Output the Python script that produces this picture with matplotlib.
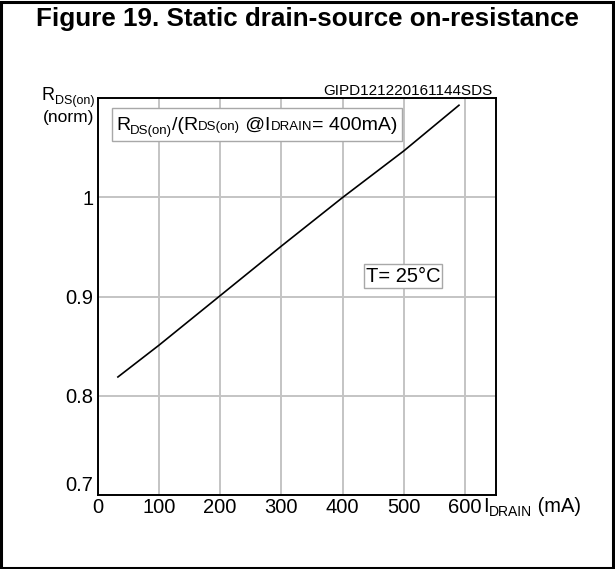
import numpy as np
import matplotlib
matplotlib.use("Agg")
import matplotlib.pyplot as plt
from matplotlib.patches import Rectangle

plt.rcParams['font.family'] = ['Liberation Sans', 'DejaVu Sans']

# curve
i_drain = [33, 100, 200, 300, 400, 500, 590]
r_norm = [0.819, 0.851, 0.901, 0.951, 1.0, 1.047, 1.093]

x_ticks = [0, 100, 200, 300, 400, 500, 600]
y_ticks = [0.7, 0.8, 0.9, 1.0]
y_labels = ["0.7", "0.8", "0.9", "1"]

W, H = 615, 569
fig = plt.figure(figsize=(W/100, H/100), dpi=100)
ax = fig.add_axes([97.7/W, 1-495/H, 398/W, 396.7/H])

gridGray = "#c4c4c4"
boxGray = "#a8a8a8"
tickSize = 14.5

ax.plot(i_drain, r_norm, color="black", lw=1.2, zorder=5)
ax.set_xlim(0, 650)
ax.set_ylim(0.7, 1.1)
ax.set_xticks(x_ticks)
ax.set_xticklabels([str(v) for v in x_ticks], fontsize=tickSize)
ax.set_yticks(y_ticks)
ax.set_yticklabels(y_labels, fontsize=tickSize)
ax.tick_params(axis="x", length=0, pad=2)
ax.tick_params(axis="y", length=0, pad=3)
ax.get_yticklabels()[0].set_va("bottom")
ax.grid(True, color=gridGray, lw=1.4)
ax.set_axisbelow(True)
for s in ax.spines.values():
    s.set_linewidth(1.4)
    s.set_color("black")

# outer frame of the figure
fig.patches.append(Rectangle((1/W, 1/H), (W-3)/W, (H-3)/H, transform=fig.transFigure,
                             fill=False, edgecolor="black", lw=2.2))

fig.text(0.5, 1-19/H, "Figure 19. Static drain-source on-resistance",
         ha="center", va="center", fontsize=18.7, fontweight="bold")

fig.text(493/W, 1-95/H, "GIPD121220161144SDS", ha="right", va="baseline", fontsize=11)

renderer = fig.canvas.get_renderer()


def chain(x, y, pieces, align="left"):
    # draw text pieces one after the other, in pixel coords
    arts = []
    widths = []
    for s, size, dy in pieces:
        t = fig.text(0, 1-(y+dy)/H, s, fontsize=size, va="baseline", ha="left", zorder=10)
        arts.append(t)
        widths.append(t.get_window_extent(renderer).width)
    if align == "right":
        x = x - sum(widths)
    for t, w in zip(arts, widths):
        t.set_x(x/W)
        x += w
    return x


# y-axis label
chain(94, 100, [("R", 13, 0), ("DS(on)", 9, 4)], align="right")
fig.text(94/W, 1-122/H, "(norm)", fontsize=12.5, va="baseline", ha="right")

# x-axis label
chain(483, 512, [("I", tickSize, 0), ("DRAIN", 10, 4), (" (mA)", tickSize, 0)])

# normalisation note
x_end = chain(116, 130, [("R", 14, 0), ("DS(on)", 9.5, 4), ("/(R", 14, 0),
                         ("DS(on)", 9.5, 0), (" @I", 14, 0),
                         ("DRAIN", 9.5, 0), ("= 400mA)", 14, 0)])
fig.patches.append(Rectangle((112/W, 1-141/H), (x_end+4-112)/W, 33/H,
                             transform=fig.transFigure, facecolor="white",
                             edgecolor=boxGray, lw=1.0, zorder=8))

fig.text(403/W, 1-276/H, "T= 25°C", ha="center", va="center", fontsize=tickSize, zorder=10,
         bbox=dict(boxstyle="square,pad=0.1", facecolor="white", edgecolor=boxGray, lw=1.0))

fig.savefig("out.png", dpi=100)
